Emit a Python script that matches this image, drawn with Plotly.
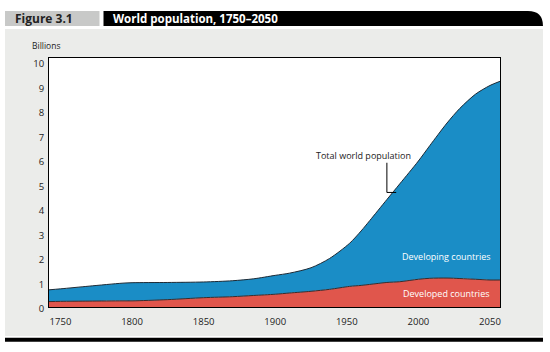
import plotly.graph_objects as go

# ---------------- data ----------------
years = [1742, 1750, 1770, 1793, 1800, 1825, 1850, 1870, 1885, 1900, 1910, 1925,
         1938, 1952, 1960, 1966, 1978, 1987, 2000, 2008, 2020, 2029, 2040, 2050, 2057]
total = [0.70, 0.74, 0.85, 0.97, 0.99, 1.00, 1.02, 1.07, 1.15, 1.29, 1.38, 1.60,
         1.98, 2.60, 3.10, 3.52, 4.38, 5.02, 5.95, 6.58, 7.50, 8.10, 8.68, 9.03, 9.20]
developed = [0.22, 0.23, 0.24, 0.25, 0.25, 0.30, 0.38, 0.42, 0.47, 0.52, 0.57, 0.64,
             0.72, 0.84, 0.88, 0.92, 1.00, 1.03, 1.13, 1.17, 1.18, 1.16, 1.13, 1.10, 1.10]

x_ticks = [1750, 1800, 1850, 1900, 1950, 2000, 2050]
y_ticks = list(range(0, 11))

title_text = "World population, 1750–2050"
fig_label = "Figure 3.1"

BLUE = "#1a8dc6"
RED = "#e0564c"
PANEL = "#ebecea"
FONT = "Open Sans"

# ---------------- layout geometry ----------------
W, H = 550, 352
L, R, T, B = 49, 50, 58, 45
PW, PH = W - L - R, H - T - B


def px(x):
    return (x - L) / PW


def py(y):
    return (H - B - y) / PH


fig = go.Figure()

fig.add_trace(go.Scatter(
    x=years, y=developed, mode="lines", fill="tozeroy",
    fillcolor=RED, line=dict(color="#3a2a2a", width=1, shape="spline", smoothing=0.8),
    hoverinfo="skip", showlegend=False))
fig.add_trace(go.Scatter(
    x=years, y=total, mode="lines", fill="tonexty",
    fillcolor=BLUE, line=dict(color="#1d2a35", width=1, shape="spline", smoothing=0.8),
    hoverinfo="skip", showlegend=False))

shapes = []
# grey panel
shapes.append(dict(type="rect", xref="paper", yref="paper", layer="below",
                   x0=px(5), x1=px(543), y0=py(336), y1=py(29),
                   fillcolor=PANEL, line=dict(width=0)))
# white plot area
shapes.append(dict(type="rect", xref="paper", yref="paper", layer="below",
                   x0=0, x1=1, y0=0, y1=1, fillcolor="white", line=dict(width=0)))
# figure label box
shapes.append(dict(type="rect", xref="paper", yref="paper",
                   x0=px(5), x1=px(99.5), y0=py(26), y1=py(11),
                   fillcolor="#c8c9c8", line=dict(width=0)))
# black title bar with rounded top-right corner
x0, x1, y0, y1, r = 103.5, 543, 26, 11, 15
path = (f"M {px(x0)},{py(y0)} L {px(x0)},{py(y1)} L {px(x1 - r)},{py(y1)} "
        f"Q {px(x1)},{py(y1)} {px(x1)},{py(y1 + r)} L {px(x1)},{py(y0)} Z")
shapes.append(dict(type="path", xref="paper", yref="paper", path=path,
                   fillcolor="black", line=dict(width=0)))
# bottom black rule
shapes.append(dict(type="rect", xref="paper", yref="paper",
                   x0=px(5), x1=px(543), y0=py(341.7), y1=py(337.7),
                   fillcolor="black", line=dict(width=0)))
# leader line for the total world population label
shapes.append(dict(type="path", xref="x", yref="y",
                   path="M 1978,5.88 L 1978,4.67 L 1984.5,4.67",
                   line=dict(color="black", width=1)))

annotations = [
    dict(text=fig_label, xref="paper", yref="paper", x=px(13), y=py(18.5),
         xanchor="left", yanchor="middle", showarrow=False,
         font=dict(family=FONT, size=12, color="#222222", weight="bold")),
    dict(text=title_text, xref="paper", yref="paper", x=px(111), y=py(18.5),
         xanchor="left", yanchor="middle", showarrow=False,
         font=dict(family=FONT, size=11.5, color="white", weight="bold")),
    dict(text="Billions", xref="paper", yref="paper", x=px(30), y=py(45.7),
         xanchor="left", yanchor="middle", showarrow=False,
         font=dict(family=FONT, size=8.5, color="#222222")),
    dict(text="Total world population", xref="x", yref="y", x=1961.4, y=6.16,
         xanchor="center", yanchor="middle", showarrow=False,
         font=dict(family=FONT, size=9, color="#222222")),
    dict(text="Developing countries", xref="x", yref="y", x=2019.8, y=2.05,
         xanchor="center", yanchor="middle", showarrow=False,
         font=dict(family=FONT, size=9, color="white")),
    dict(text="Developed countries", xref="x", yref="y", x=2019.4, y=0.56,
         xanchor="center", yanchor="middle", showarrow=False,
         font=dict(family=FONT, size=9, color="white")),
]

fig.update_layout(
    width=W, height=H, autosize=False,
    margin=dict(l=L, r=R, t=T, b=B, pad=0),
    paper_bgcolor="white", plot_bgcolor="white",
    font=dict(family=FONT, size=9.5, color="#222222"),
    shapes=shapes, annotations=annotations,
    xaxis=dict(range=[min(years), max(years)], tickmode="array", tickvals=x_ticks,
               ticktext=[str(v) for v in x_ticks], showgrid=False, zeroline=False,
               showline=True, mirror=True, linecolor="black", linewidth=1,
               ticks="outside", ticklen=6, tickcolor="rgba(0,0,0,0)",
               tickfont=dict(family=FONT, size=9.5, color="#222222")),
    yaxis=dict(range=[0, 10.15], tickmode="array", tickvals=y_ticks,
               showgrid=False, zeroline=False,
               showline=True, mirror=True, linecolor="black", linewidth=1,
               ticks="outside", ticklen=2, tickcolor="rgba(0,0,0,0)",
               ticklabelshift=2,
               tickfont=dict(family=FONT, size=9.5, color="#222222")),
)

fig.write_html("out.html")
